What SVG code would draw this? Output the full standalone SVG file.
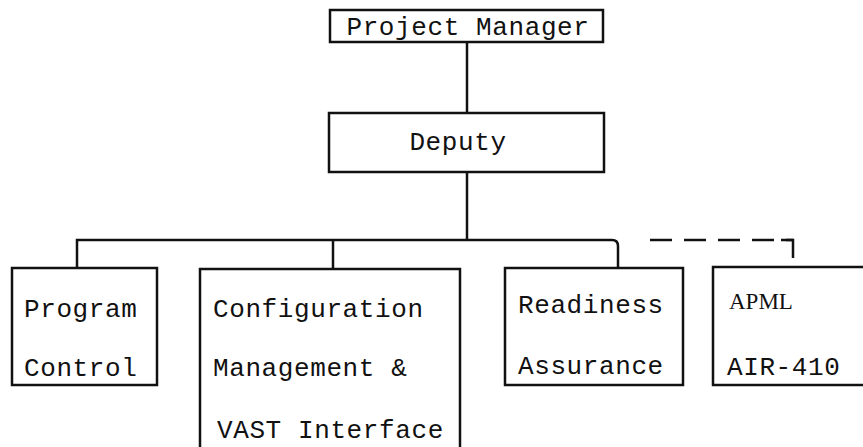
<svg xmlns="http://www.w3.org/2000/svg" width="863" height="447" viewBox="0 0 863 447">
<style>
.box{fill:#fff;stroke:#111;stroke-width:2.5}
.ln{fill:none;stroke:#111;stroke-width:2.5}
.dash{fill:none;stroke:#111;stroke-width:2.5;stroke-dasharray:22 12}
text{font-family:"Liberation Mono","DejaVu Sans Mono",monospace;font-size:26px;letter-spacing:0.6px;fill:#111}
.c{text-anchor:middle}
.serif{font-family:"Liberation Serif",serif;font-size:23px;letter-spacing:0}
</style>
<rect width="863" height="447" fill="#fff"/>
<g id="connectors">
<path class="ln" d="M467 42 V113"/>
<path class="ln" d="M467 172 V240"/>
<path class="ln" d="M77 268 V240 H612 Q618 240 618 246 V268"/>
<path class="ln" d="M333 240 V269"/>
<path class="dash" d="M650 240 H793"/>
<path class="ln" d="M781 240 H793 V258"/>
</g>
<g id="project-manager">
<rect class="box" x="330" y="10" width="273" height="32"/>
<text class="c" x="468" y="35">Project Manager</text>
</g>
<g id="deputy">
<rect class="box" x="329" y="113" width="275" height="59"/>
<text class="c" x="458" y="150">Deputy</text>
</g>
<g id="program-control">
<rect class="box" x="12" y="268" width="145" height="117"/>
<text x="24" y="317">Program</text>
<text x="24" y="376">Control</text>
</g>
<g id="configuration">
<rect class="box" x="200" y="269" width="260" height="190"/>
<text x="213" y="317">Configuration</text>
<text x="213" y="376">Management &amp;</text>
<text x="217" y="438">VAST Interface</text>
</g>
<g id="readiness">
<rect class="box" x="505" y="268" width="178" height="117"/>
<text x="518" y="313">Readiness</text>
<text x="518" y="374">Assurance</text>
</g>
<g id="apml">
<rect class="box" x="713" y="267" width="170" height="118"/>
<text class="serif" x="729" y="309">APML</text>
<text x="727" y="375">AIR-410</text>
</g>
</svg>
